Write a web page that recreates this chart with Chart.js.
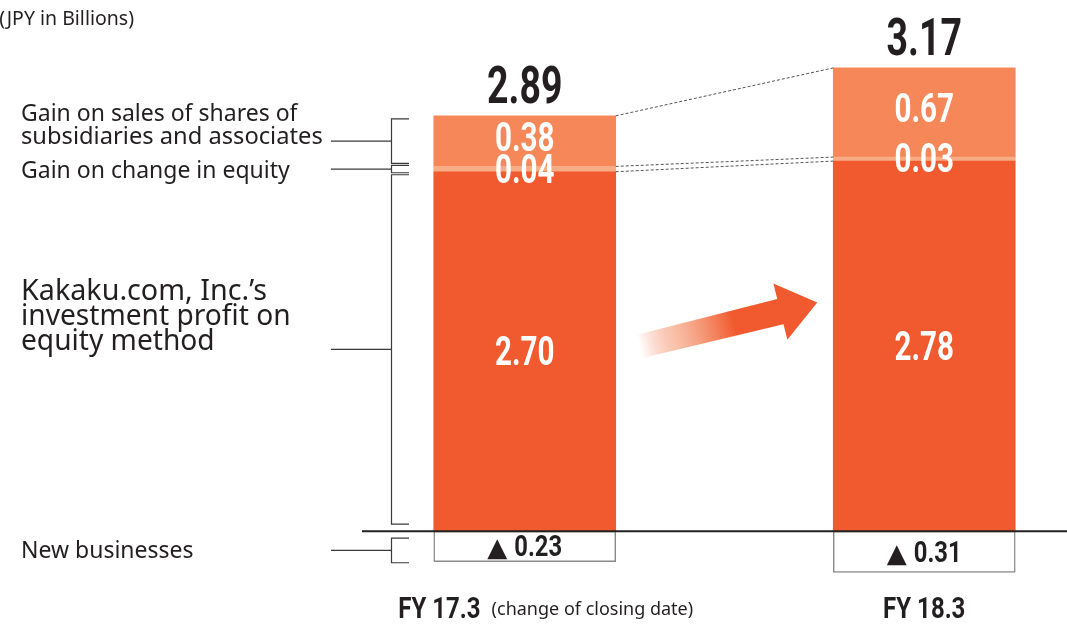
<!DOCTYPE html>
<html>
<head>
<meta charset="utf-8">
<script src="https://cdn.jsdelivr.net/npm/chart.js@4.4.1/dist/chart.umd.min.js"></script>
<style>
  html, body { margin: 0; padding: 0; background: #fff; overflow: hidden; }
  #wrap { position: absolute; left: 0; top: 0; width: 1067px; height: 624px; overflow: hidden; }
  canvas { position: absolute; left: 0; top: 0; }
</style>
</head>
<body>
<div id="wrap"><canvas id="chart" width="1124" height="624"></canvas></div>
<script>
// Equity-method profit breakdown (JPY in Billions)

const categories = ['FY 17.3', 'FY 18.3'];
const categoryNotes = ['(change of closing date)', ''];

const investmentProfit = [2.70, 2.78];
const equityChangeGain = [0.04, 0.03];
const shareSalesGain = [0.38, 0.67];
const newBusinesses = [-0.23, -0.31];
const totals = [2.89, 3.17];

// left-hand labels, one per series (same order as datasets)
const seriesLabels = [
    ['Kakaku.com, Inc.\u2019s', 'investment profit on', 'equity method'],
    ['Gain on change in equity'],
    ['Gain on sales of shares of', 'subsidiaries and associates'],
    ['New businesses']
];
const unitLabel = '(JPY in Billions)';

const COLORS = {
    main: '#F15A2E',
    band: '#F7AC86',
    top: '#F58759',
    text: '#231F20',
    line: '#555555'
};

const NUM_FONT = 'Roboto, "Liberation Sans", sans-serif';
const TXT_FONT = '"Noto Sans", "DejaVu Sans", sans-serif';

// condensed bold numbers
function drawNumber(ctx, text, x, y, size, color, sx, align) {
    ctx.save();
    ctx.translate(x, y);
    ctx.scale(sx, 1);
    ctx.font = 'bold ' + size + 'px ' + NUM_FONT;
    ctx.fillStyle = color;
    ctx.textAlign = align || 'center';
    ctx.textBaseline = 'alphabetic';
    ctx.fillText(text, 0, 0);
    ctx.restore();
}

function drawText(ctx, text, x, y, size, sx, align) {
    ctx.save();
    ctx.translate(x, y);
    ctx.scale(sx, 1);
    ctx.font = size + 'px ' + TXT_FONT;
    ctx.fillStyle = COLORS.text;
    ctx.textAlign = align || 'left';
    ctx.textBaseline = 'alphabetic';
    ctx.fillText(text, 0, 0);
    ctx.restore();
}

function dottedLine(ctx, x1, y1, x2, y2) {
    ctx.save();
    ctx.strokeStyle = COLORS.line;
    ctx.lineWidth = 1;
    ctx.setLineDash([3, 2]);
    ctx.beginPath();
    ctx.moveTo(x1, y1);
    ctx.lineTo(x2, y2);
    ctx.stroke();
    ctx.restore();
}

function bracket(ctx, top, bottom, leftX) {
    const vx = 391.5, tx = 409;
    ctx.save();
    ctx.strokeStyle = '#3a3a3a';
    ctx.lineWidth = 1.2;
    ctx.beginPath();
    ctx.moveTo(tx, top);
    ctx.lineTo(vx, top);
    ctx.lineTo(vx, bottom);
    ctx.lineTo(tx, bottom);
    ctx.stroke();
    const mid = (top + bottom) / 2;
    ctx.beginPath();
    ctx.moveTo(leftX, mid);
    ctx.lineTo(vx, mid);
    ctx.stroke();
    ctx.restore();
    return mid;
}

const decorations = {
    id: 'decorations',
    afterDatasetsDraw(chart) {
        const ctx = chart.ctx;
        const yScale = chart.scales.y;
        const zeroY = yScale.getPixelForValue(0);
        const metas = [0, 1, 2, 3].map(i => chart.getDatasetMeta(i).data);
        const segTop = (d, i) => Math.min(metas[d][i].y, metas[d][i].base);
        const segBot = (d, i) => Math.max(metas[d][i].y, metas[d][i].base);

        // baseline
        ctx.save();
        ctx.strokeStyle = '#222';
        ctx.lineWidth = 2;
        ctx.beginPath();
        ctx.moveTo(362, zeroY);
        ctx.lineTo(1067, zeroY);
        ctx.stroke();
        ctx.restore();

        // dotted connectors between the two bars
        const b0 = metas[0][0], b1 = metas[0][1];
        const r0 = b0.x + b0.width / 2, l1 = b1.x - b1.width / 2;
        dottedLine(ctx, r0, segTop(2, 0), l1, segTop(2, 1));
        dottedLine(ctx, r0, segTop(1, 0), l1, segTop(1, 1));
        dottedLine(ctx, r0, segTop(0, 0), l1, segTop(0, 1));

        // value labels inside segments
        for (let i = 0; i < categories.length; i++) {
            for (let d = 0; d < 3; d++) {
                const el = metas[d][i];
                const top = segTop(d, i), bot = segBot(d, i);
                let cy = (top + bot) / 2;
                if (bot - top < 12) cy = bot - 3;
                else if (d === 2) cy -= 4;
                const v = chart.data.datasets[d].data[i];
                drawNumber(ctx, v.toFixed(2), el.x, cy + 14, 40, '#fff', 0.74);
            }
            // total on top
            const el = metas[2][i];
            drawNumber(ctx, totals[i].toFixed(2), el.x, segTop(2, i) - 13, 52, COLORS.text, 0.72);

            // negative box label
            const nb = metas[3][i];
            const ny = (segTop(3, i) + segBot(3, i)) / 2;
            const numStr = Math.abs(newBusinesses[i]).toFixed(2);
            ctx.save();
            ctx.font = 'bold 29px ' + NUM_FONT;
            const numW = ctx.measureText(numStr).width * 0.82;
            ctx.font = '26px "DejaVu Sans"';
            const triW = ctx.measureText('\u25B2').width;
            ctx.restore();
            const gap = 7;
            const startX = nb.x - (triW + gap + numW) / 2;
            ctx.save();
            ctx.font = '26px "DejaVu Sans"';
            ctx.fillStyle = COLORS.text;
            ctx.textAlign = 'left';
            ctx.fillText('\u25B2', startX, ny + 10);
            ctx.restore();
            drawNumber(ctx, numStr, startX + triW + gap, ny + 10, 29, COLORS.text, 0.82, 'left');

            // category labels
            ctx.save();
            ctx.font = 'bold 30px ' + NUM_FONT;
            const catW = ctx.measureText(categories[i]).width * 0.8;
            ctx.font = '18px ' + TXT_FONT;
            const noteW = categoryNotes[i] ? ctx.measureText(categoryNotes[i]).width + 11 : 0;
            ctx.restore();
            const cx0 = nb.x + (noteW ? 21 : 0) - (catW + noteW) / 2;
            drawNumber(ctx, categories[i], cx0, 618, 30, COLORS.text, 0.8, 'left');
            if (categoryNotes[i]) drawText(ctx, categoryNotes[i], cx0 + catW + 11, 615, 18, 1);
        }

        // brackets and series labels on the left (against the first bar)
        const leftX = 331;
        let m = bracket(ctx, segTop(2, 0) + 3, segBot(2, 0) - 3, leftX);
        drawText(ctx, seriesLabels[2][0], 21, m - 20, 23, 1);
        drawText(ctx, seriesLabels[2][1], 21, m + 3, 23, 1.03);

        m = bracket(ctx, segTop(1, 0) - 1, segBot(1, 0) + 1, leftX);
        drawText(ctx, seriesLabels[1][0], 21, m + 9, 23, 1);

        m = bracket(ctx, segTop(0, 0) + 3, segBot(0, 0) - 7, leftX);
        drawText(ctx, seriesLabels[0][0], 21, m - 49, 29, 0.99);
        drawText(ctx, seriesLabels[0][1], 21, m - 24, 29, 0.97);
        drawText(ctx, seriesLabels[0][2], 21, m + 1, 29, 0.97);

        m = bracket(ctx, segTop(3, 0) + 7, segBot(3, 0) + 1, leftX);
        drawText(ctx, seriesLabels[3][0], 21, m + 8, 23, 1);

        // unit label (cut at the left edge as in the source)
        drawText(ctx, unitLabel, 134, 25, 19.5, 1, 'right');

        // growth arrow between the bars
        const mainMid = (segTop(0, 0) + segBot(0, 0)) / 2;
        const tx = r0 + 24, ty = mainMid - 5;
        const hx = l1 - 16, hy = ty - 44;
        const L = Math.hypot(hx - tx, hy - ty);
        ctx.save();
        ctx.translate(tx, ty);
        ctx.rotate(Math.atan2(hy - ty, hx - tx));
        const g = ctx.createLinearGradient(0, 0, L, 0);
        g.addColorStop(0, 'rgba(241,90,46,0)');
        g.addColorStop(0.2, 'rgba(244,150,110,0.6)');
        g.addColorStop(0.53, 'rgba(241,90,46,1)');
        g.addColorStop(1, 'rgba(241,90,46,1)');
        ctx.fillStyle = g;
        ctx.beginPath();
        ctx.moveTo(0, -12);
        ctx.lineTo(L - 38, -13);
        ctx.lineTo(L - 38, -29);
        ctx.lineTo(L, 0);
        ctx.lineTo(L - 38, 29);
        ctx.lineTo(L - 38, 13);
        ctx.lineTo(0, 12);
        ctx.closePath();
        ctx.fill();
        ctx.restore();
    }
};

new Chart(document.getElementById('chart').getContext('2d'), {
    type: 'bar',
    data: {
        labels: categories,
        datasets: [
            { label: seriesLabels[0].join(' '), data: investmentProfit, backgroundColor: COLORS.main, borderWidth: 0 },
            { label: seriesLabels[1].join(' '), data: equityChangeGain, backgroundColor: COLORS.band, borderWidth: 0 },
            { label: seriesLabels[2].join(' '), data: shareSalesGain, backgroundColor: COLORS.top, borderWidth: 0 },
            { label: seriesLabels[3].join(' '), data: newBusinesses, backgroundColor: '#fff',
              borderColor: '#8a8a8a', borderWidth: 1.5, borderSkipped: false }
        ]
    },
    options: {
        responsive: false,
        animation: false,
        devicePixelRatio: 1,
        barThickness: 182,
        layout: { padding: { left: 325, right: 0, top: 12, bottom: 13 } },
        plugins: { legend: { display: false }, tooltip: { enabled: false } },
        scales: {
            x: { stacked: true, display: false, offset: true },
            y: { stacked: true, display: false, min: -0.6, max: 3.9 }
        }
    },
    plugins: [decorations]
});
</script>
</body>
</html>
